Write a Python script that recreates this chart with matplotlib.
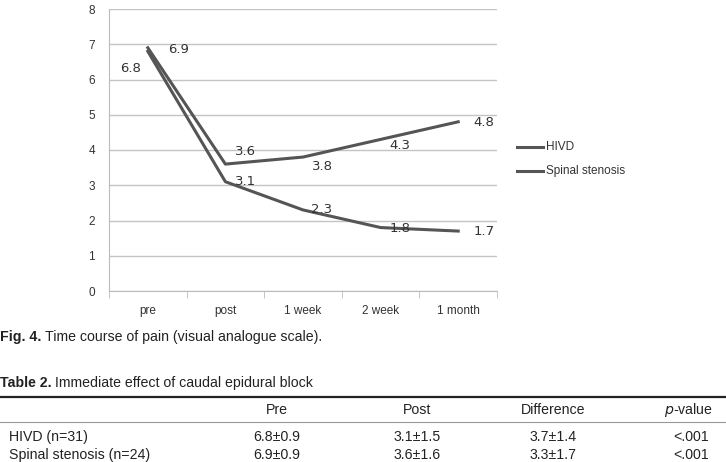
import matplotlib.pyplot as plt
from matplotlib.lines import Line2D

plt.rcParams['font.family'] = 'Liberation Sans'

# Chart data
timepoints = ['pre', 'post', '1 week', '2 week', '1 month']
hivd = [6.8, 3.1, 2.3, 1.8, 1.7]
stenosis = [6.9, 3.6, 3.8, 4.3, 4.8]

# label offsets in pixels (x, y)
hivd_offsets = [(-17, -17), (20, 0), (19, 0), (19, -1), (26, 0)]
stenosis_offsets = [(31, -2), (20, 13), (19, -9), (19, -6), (26, -1)]

# Table data
table_cols = ['Pre', 'Post', 'Difference']
table_rows = ['HIVD (n=31)', 'Spinal stenosis (n=24)']
table_pre = ['6.8\u00b10.9', '6.9\u00b10.9']
table_post = ['3.1\u00b11.5', '3.6\u00b11.6']
table_diff = ['3.7\u00b11.4', '3.3\u00b11.7']
table_p = ['<.001', '<.001']

W, H = 726, 462
fig = plt.figure(figsize=(W / 100, H / 100), dpi=100)
ax = fig.add_axes([109 / W, 1 - 291 / H, (497 - 109) / W, (291 - 9) / H])

line_color = '#555555'
x = list(range(len(timepoints)))
ax.plot(x, hivd, color=line_color, lw=2.2, label='HIVD')
ax.plot(x, stenosis, color=line_color, lw=2.2, label='Spinal stenosis')

for i, v in enumerate(hivd):
    ax.annotate(f'{v}', (i, v), xytext=hivd_offsets[i], textcoords='offset pixels',
                ha='center', va='center', fontsize=9.5, color='#333333', family='DejaVu Sans')
for i, v in enumerate(stenosis):
    ax.annotate(f'{v}', (i, v), xytext=stenosis_offsets[i], textcoords='offset pixels',
                ha='center', va='center', fontsize=9.5, color='#333333', family='DejaVu Sans')

ax.set_xlim(-0.5, len(timepoints) - 0.5)
ax.set_ylim(0, 8)
ax.set_yticks(range(0, 9))
ax.set_xticks(x)
ax.set_xticklabels(timepoints)
ax.set_xticks([i - 0.5 for i in range(len(timepoints) + 1)], minor=True)
ax.tick_params(axis='x', which='major', length=0, pad=10, labelsize=8.5, colors='#333333')
ax.tick_params(axis='x', which='minor', length=5, color='#bbbbbb')
ax.tick_params(axis='y', length=0, pad=10, labelsize=8.5, colors='#333333')
ax.yaxis.grid(True, color='#c4c4c4', lw=1)
ax.set_axisbelow(True)
for s in ['top', 'right']:
    ax.spines[s].set_visible(False)
ax.spines['left'].set_color('#bbbbbb')
ax.spines['bottom'].set_color('#bbbbbb')

# legend
leg_items = [('HIVD', 147), ('Spinal stenosis', 171)]
for name, py in leg_items:
    fig.add_artist(Line2D([517 / W, 543 / W], [1 - py / H, 1 - py / H], color=line_color, lw=2.2))
    fig.text(546 / W, 1 - py / H, name, fontsize=8.5, va='center', ha='left', color='#333333')

fs = 10.2
tc = '#222222'

# caption
fig.text(0, 1 - 337 / H, 'Fig. 4.', fontsize=fs, fontweight='bold', va='center', ha='left', color=tc)
fig.text(45 / W, 1 - 337 / H, 'Time course of pain (visual analogue scale).', fontsize=fs,
         va='center', ha='left', color=tc)

fig.text(0, 1 - 383 / H, 'Table 2.', fontsize=fs, fontweight='bold', va='center', ha='left', color=tc)
fig.text(55 / W, 1 - 383 / H, 'Immediate effect of caudal epidural block', fontsize=fs,
         va='center', ha='left', color=tc)

fig.add_artist(Line2D([0, 1], [1 - 397 / H, 1 - 397 / H], color='#222222', lw=1.6))
fig.add_artist(Line2D([0, 1], [1 - 422 / H, 1 - 422 / H], color='#999999', lw=0.8))

col_x = [277, 417, 553]
for cx, name in zip(col_x, table_cols):
    fig.text(cx / W, 1 - 410 / H, name, fontsize=fs, ha='center', va='center', color=tc)
fig.text(713 / W, 1 - 410 / H, r'$\it{p}$-value', fontsize=fs, ha='right', va='center', color=tc)

row_y = [437, 455]
for r, ry in enumerate(row_y):
    yy = 1 - ry / H
    fig.text(9 / W, yy, table_rows[r], fontsize=fs, ha='left', va='center', color=tc)
    fig.text(col_x[0] / W, yy, table_pre[r], fontsize=fs, ha='center', va='center', color=tc)
    fig.text(col_x[1] / W, yy, table_post[r], fontsize=fs, ha='center', va='center', color=tc)
    fig.text(col_x[2] / W, yy, table_diff[r], fontsize=fs, ha='center', va='center', color=tc)
    fig.text(709 / W, yy, table_p[r], fontsize=fs, ha='right', va='center', color=tc)

fig.savefig('out.png', dpi=100)
